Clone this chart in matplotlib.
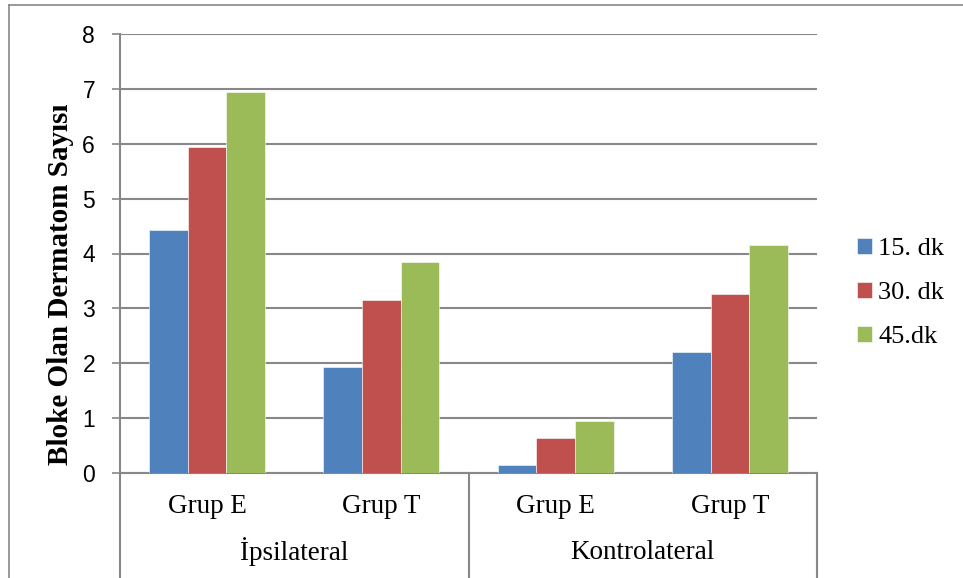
import matplotlib
matplotlib.use("Agg")
import matplotlib.pyplot as plt
import numpy as np
from matplotlib.lines import Line2D

# data
groups = ["İpsilateral", "Kontrolateral"]
subgroups = ["Grup E", "Grup T", "Grup E", "Grup T"]
series = ["15. dk", "30. dk", "45.dk"]
dk15 = [4.42, 1.94, 0.15, 2.21]
dk30 = [5.94, 3.15, 0.63, 3.26]
dk45 = [6.94, 3.84, 0.94, 4.15]
colors = ["#4F81BD", "#C0504D", "#9BBB59"]

SERIF = "Liberation Serif"
SANS = "Liberation Sans"
GRID = "#888888"

fig = plt.figure(figsize=(9.63, 5.78), dpi=100)
ax = fig.add_axes([120 / 963, 1 - 473 / 578, 697 / 963, 439 / 578])

x = np.arange(len(subgroups))
w = 1 / 4.5
for i, (vals, c, name) in enumerate(zip([dk15, dk30, dk45], colors, series)):
    ax.bar(x + (i - 1) * w, vals, width=w, color=c, edgecolor="white",
           linewidth=0.4, label=name, zorder=3)

ax.set_xlim(-0.5, len(subgroups) - 0.5)
ax.set_ylim(0, 8)
ax.set_yticks(range(0, 9))
ax.yaxis.grid(True, color=GRID, linewidth=1.5, zorder=0)
ax.tick_params(axis="y", length=6, width=1.2, color=GRID, labelsize=16.5, pad=12)
for lab in ax.get_yticklabels():
    lab.set_fontfamily(SANS)

ax.set_xticks([])
for s in ["top", "right"]:
    ax.spines[s].set_visible(False)
for s in ["left", "bottom"]:
    ax.spines[s].set_color(GRID)
    ax.spines[s].set_linewidth(1.5)

trans = ax.get_xaxis_transform()
for xi, lab in zip(x, subgroups):
    ax.text(xi, -0.077, lab, transform=trans, ha="center", va="center",
            fontsize=19.5, family=SERIF)
for gi, g in enumerate(groups):
    ax.text(2 * gi + 0.5, -0.18, g, transform=trans, ha="center", va="center",
            fontsize=19.5, family=SERIF)
for xs in [-0.5, 1.5, 3.5]:
    ax.add_line(Line2D([xs, xs], [0, -0.3], transform=trans, color=GRID,
                       linewidth=1.5, clip_on=False))

fig.text(60 / 963, 1 - 284 / 578, "Bloke Olan Dermatom Sayısı", rotation=90,
         ha="center", va="center", fontsize=21, fontweight="bold", family=SERIF)

leg = fig.legend(loc="center left", bbox_to_anchor=(857 / 963, 1 - 293 / 578),
                 frameon=False, prop={"family": SERIF, "size": 19},
                 handlelength=0.55, handleheight=0.55, handletextpad=0.25,
                 labelspacing=0.82, borderpad=0, borderaxespad=0)

# outer chart border
fig.add_artist(Line2D([9 / 963, 9 / 963], [0, 1 - 5 / 578], color=GRID, linewidth=1.2))
fig.add_artist(Line2D([9 / 963, 1], [1 - 5 / 578, 1 - 5 / 578], color=GRID, linewidth=1.2))

fig.savefig("out.png", dpi=100)
